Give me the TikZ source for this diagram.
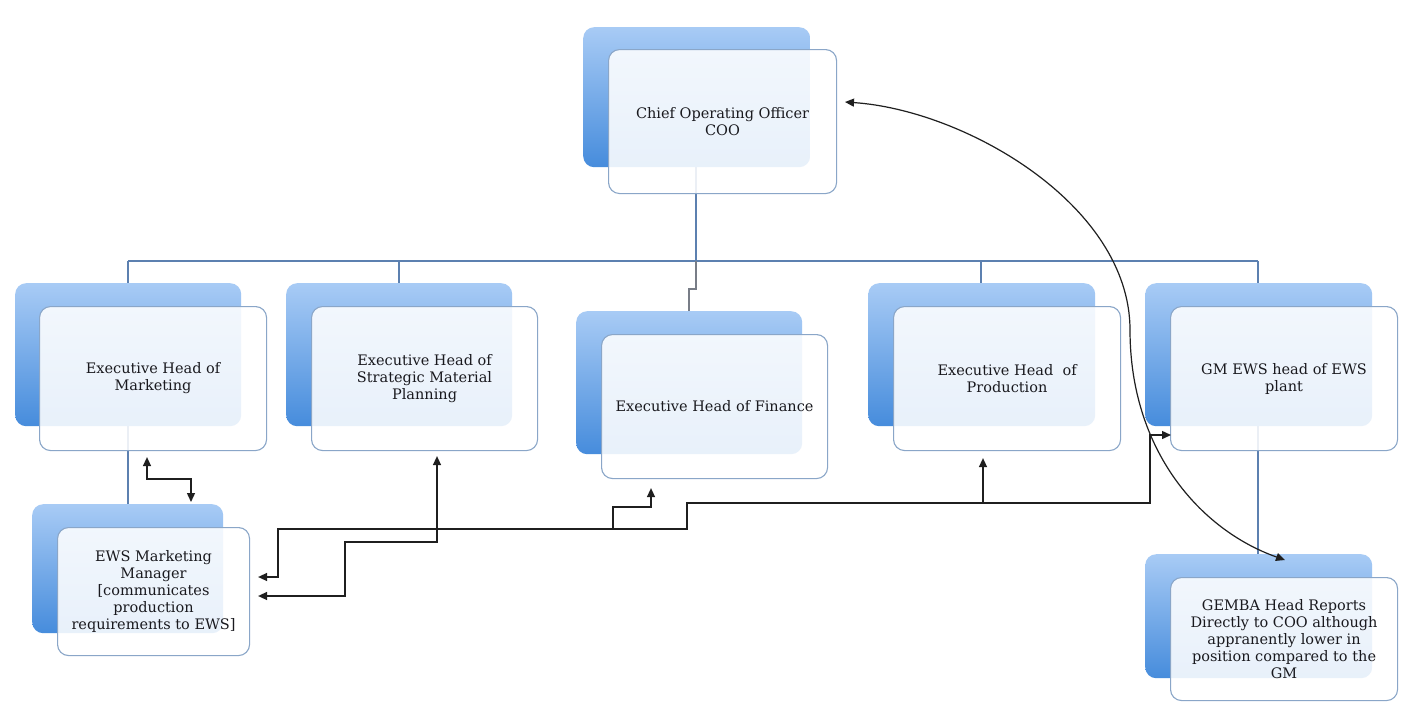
\documentclass[tikz,border=0pt]{standalone}
\usepackage{fontspec}
\setmainfont{DejaVu Serif}
\usetikzlibrary{arrows.meta}
\definecolor{backtop}{RGB}{168,203,245}
\definecolor{backbot}{RGB}{70,140,220}
\definecolor{frontline}{RGB}{138,166,200}
\definecolor{treeline}{RGB}{92,128,176}
\definecolor{treegray}{RGB}{120,125,135}
\definecolor{txt}{RGB}{25,25,30}
\tikzset{
  backbox/.style={rounded corners=11pt, top color=backtop, bottom color=backbot, draw=none, anchor=north west, inner sep=0pt},
  frontbox/.style={rounded corners=11pt, fill=white, fill opacity=0.88, text opacity=1, draw=frontline, line width=1.1pt, anchor=north west, inner sep=0pt, align=center, text=txt, font=\fontsize{14.5}{17}\selectfont},
  tree/.style={draw=treeline, line width=1.1pt},
  treeg/.style={draw=treegray, line width=1.1pt},
  link/.style={draw=black!88, line width=1.4pt, -{Triangle[length=9pt,width=8pt]}},
  dlink/.style={draw=black!88, line width=1.4pt, {Triangle[length=9pt,width=8pt]}-{Triangle[length=9pt,width=8pt]}}
}
\begin{document}
\begin{tikzpicture}[x=1pt,y=-1pt]
\useasboundingbox (0,0) rectangle (1408,707);
\fill[white] (0,0) rectangle (1408,707);

% ---- tree connectors (behind everything)
\coordinate (bus) at (696,261);
\coordinate (jog) at (696,289);
\coordinate (tCOO) at (696,167);
\coordinate (tM) at (128,261);
\coordinate (tS) at (399,261);
\coordinate (tP) at (981,261);
\coordinate (tG) at (1258,261);
\draw[tree] (tCOO) -- (bus);
\draw[tree] (tM) -- (tG);
\draw[tree] (tM) -- (128,504);
\draw[tree] (tS) -- (399,283);
\draw[treeg] (bus) -- (jog) -- (689,289) -- (689,311);
\draw[tree] (tP) -- (981,283);
\draw[tree] (tG) -- (1258,554);

% ---- back boxes
\node[backbox, minimum width=227, minimum height=140] (cooB) at (583,27) {};
\node[backbox, minimum width=226, minimum height=143] (mktB) at (15,283) {};
\node[backbox, minimum width=226, minimum height=143] (smpB) at (286,283) {};
\node[backbox, minimum width=226, minimum height=143] (finB) at (576,311) {};
\node[backbox, minimum width=227, minimum height=143] (prdB) at (868,283) {};
\node[backbox, minimum width=227, minimum height=143] (gmB) at (1145,283) {};
\node[backbox, minimum width=191, minimum height=129] (ewsB) at (32,504) {};
\node[backbox, minimum width=227, minimum height=124] (gemB) at (1145,554) {};

% ---- front boxes
\node[frontbox, minimum width=228, minimum height=144] (coo) at (608,49) {Chief Operating Officer\\COO};
\node[frontbox, minimum width=227, minimum height=144] (mkt) at (39,306) {Executive Head of\\Marketing};
\node[frontbox, minimum width=226, minimum height=144] (smp) at (311,306) {Executive Head of\\Strategic Material\\Planning};
\node[frontbox, minimum width=226, minimum height=144] (fin) at (601,334) {Executive Head of Finance};
\node[frontbox, minimum width=227, minimum height=144] (prd) at (893,306) {Executive Head\ \ of\\Production};
\node[frontbox, minimum width=227, minimum height=144] (gm) at (1170,306) {GM EWS head of EWS\\plant};
\node[frontbox, minimum width=192, minimum height=128] (ews) at (57,527) {EWS Marketing\\Manager\\{[}communicates\\production\\requirements to EWS{]}};
\node[frontbox, minimum width=227, minimum height=123] (gem) at (1170,577) {GEMBA Head Reports\\Directly to COO although\\appranently lower in\\position compared to the\\GM};

% ---- black connectors
\coordinate (m1) at (147,479);
\coordinate (m2) at (191,479);
\draw[dlink, shorten <=6pt, shorten >=2pt] (m1 |- mkt.south) -- (m1) -- (m2) -- (m2 |- ewsB.north);

\coordinate (s1) at (437,542);
\coordinate (s2) at (345,542);
\coordinate (s3) at (345,596);
\draw[dlink, shorten <=5pt, shorten >=8pt] (s1 |- smp.south) -- (s1) -- (s2) -- (s3) -- (s3 -| ews.east);

\coordinate (n1) at (278,577);
\coordinate (n2) at (278,529);
\coordinate (n3) at (687,529);
\coordinate (n4) at (687,503);
\coordinate (n5) at (1150,503);
\coordinate (n6) at (1150,435);
\draw[dlink, shorten <=8pt, shorten >=-1pt] (n1 -| ews.east) -- (n1) -- (n2) -- (n3) -- (n4) -- (n5) -- (n6) -- (n6 -| gm.west);

\coordinate (f1) at (613,529);
\coordinate (f2) at (613,507);
\coordinate (f3) at (651,507);
\draw[link, shorten >=9pt] (f1) -- (f2) -- (f3) -- (f3 |- fin.south);

\coordinate (p1) at (983,503);
\draw[link, shorten >=7pt] (p1) -- (p1 |- prd.south);

\coordinate (cA) at (845,102);
\coordinate (cM) at (1130,330);
\coordinate (cB) at (1285,560);
\draw[dlink, line width=1.2pt] (cA) .. controls (965,110) and (1130,205) .. (cM) .. controls (1130,450) and (1200,530) .. (cB);
\end{tikzpicture}
\end{document}
